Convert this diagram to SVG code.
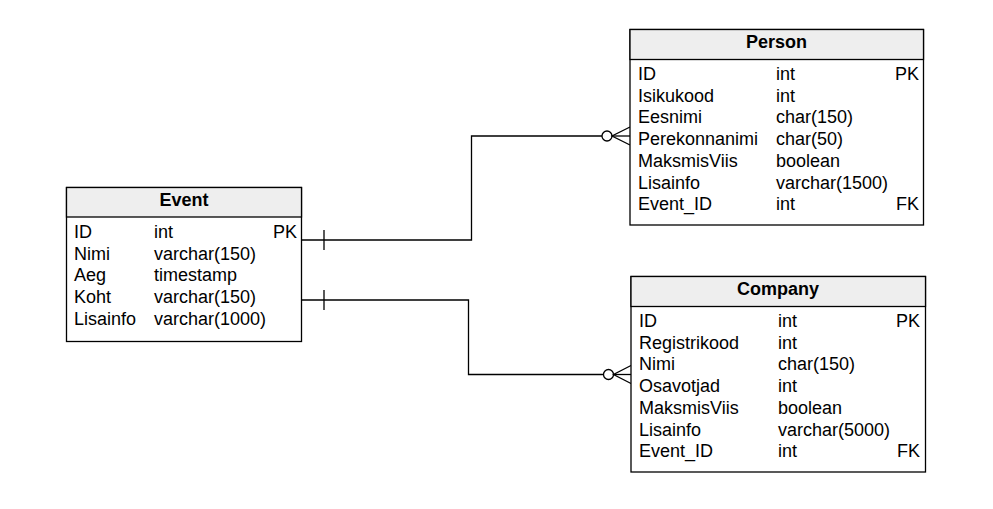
<svg xmlns="http://www.w3.org/2000/svg" width="993" height="509" viewBox="0 0 993 509">
<style>
.box{fill:#ffffff;stroke:#000000;stroke-width:1.3}
.hdr{fill:#eeeeee;stroke:#000000;stroke-width:1.3}
.t{font-family:"Liberation Sans",Arial,sans-serif;font-size:18px;fill:#000000}
.h{font-family:"Liberation Sans",Arial,sans-serif;font-size:18px;font-weight:bold;fill:#000000;text-anchor:middle}
.r{text-anchor:end}
.ln{fill:none;stroke:#000000;stroke-width:1.3}
.circ{fill:#ffffff;stroke:#000000;stroke-width:1.3}
</style>
<rect width="993" height="509" fill="#ffffff"/>
<g id="connectors">
<polyline class="ln" points="301.5,240 471.5,240 471.5,136 602,136"/>
<line class="ln" x1="324" y1="230" x2="324" y2="250"/>
<circle class="circ" cx="607" cy="136" r="5"/>
<polyline class="ln" points="630,127 612,136 630,145"/>
<line class="ln" x1="612" y1="136" x2="630" y2="136"/>
<polyline class="ln" points="301.5,300 468.5,300 468.5,374.5 603.5,374.5"/>
<line class="ln" x1="324" y1="290" x2="324" y2="310"/>
<circle class="circ" cx="608.5" cy="374.5" r="5"/>
<polyline class="ln" points="631,365.5 613.5,374.5 631,383.5"/>
<line class="ln" x1="613.5" y1="374.5" x2="631" y2="374.5"/>
</g>
<g id="event">
<rect class="box" x="66.5" y="187.5" width="235" height="154"/>
<rect class="hdr" x="66.5" y="187.5" width="235" height="29.5"/>
<text class="h" x="184" y="206">Event</text>
<text class="t" x="74" y="238">ID</text><text class="t" x="154" y="238">int</text><text class="t r" x="297" y="238">PK</text>
<text class="t" x="74" y="259.7">Nimi</text><text class="t" x="154" y="259.7">varchar(150)</text>
<text class="t" x="74" y="281.4">Aeg</text><text class="t" x="154" y="281.4">timestamp</text>
<text class="t" x="74" y="303.1">Koht</text><text class="t" x="154" y="303.1">varchar(150)</text>
<text class="t" x="74" y="324.8">Lisainfo</text><text class="t" x="154" y="324.8">varchar(1000)</text>
</g>
<g id="person">
<rect class="box" x="630" y="29.5" width="293.5" height="195.5"/>
<rect class="hdr" x="630" y="29.5" width="293.5" height="30"/>
<text class="h" x="776.5" y="48">Person</text>
<text class="t" x="638" y="80">ID</text><text class="t" x="776" y="80">int</text><text class="t r" x="919" y="80">PK</text>
<text class="t" x="638" y="101.7">Isikukood</text><text class="t" x="776" y="101.7">int</text>
<text class="t" x="638" y="123.4">Eesnimi</text><text class="t" x="776" y="123.4">char(150)</text>
<text class="t" x="638" y="145.1">Perekonnanimi</text><text class="t" x="776" y="145.1">char(50)</text>
<text class="t" x="638" y="166.8">MaksmisViis</text><text class="t" x="776" y="166.8">boolean</text>
<text class="t" x="638" y="188.5">Lisainfo</text><text class="t" x="776" y="188.5">varchar(1500)</text>
<text class="t" x="638" y="210.2">Event_ID</text><text class="t" x="776" y="210.2">int</text><text class="t r" x="919" y="210.2">FK</text>
</g>
<g id="company">
<rect class="box" x="631" y="276.5" width="294.5" height="195.5"/>
<rect class="hdr" x="631" y="276.5" width="294.5" height="30"/>
<text class="h" x="778" y="295">Company</text>
<text class="t" x="639" y="327">ID</text><text class="t" x="778" y="327">int</text><text class="t r" x="920" y="327">PK</text>
<text class="t" x="639" y="348.7">Registrikood</text><text class="t" x="778" y="348.7">int</text>
<text class="t" x="639" y="370.4">Nimi</text><text class="t" x="778" y="370.4">char(150)</text>
<text class="t" x="639" y="392.1">Osavotjad</text><text class="t" x="778" y="392.1">int</text>
<text class="t" x="639" y="413.8">MaksmisViis</text><text class="t" x="778" y="413.8">boolean</text>
<text class="t" x="639" y="435.5">Lisainfo</text><text class="t" x="778" y="435.5">varchar(5000)</text>
<text class="t" x="639" y="457.2">Event_ID</text><text class="t" x="778" y="457.2">int</text><text class="t r" x="920" y="457.2">FK</text>
</g>
</svg>
